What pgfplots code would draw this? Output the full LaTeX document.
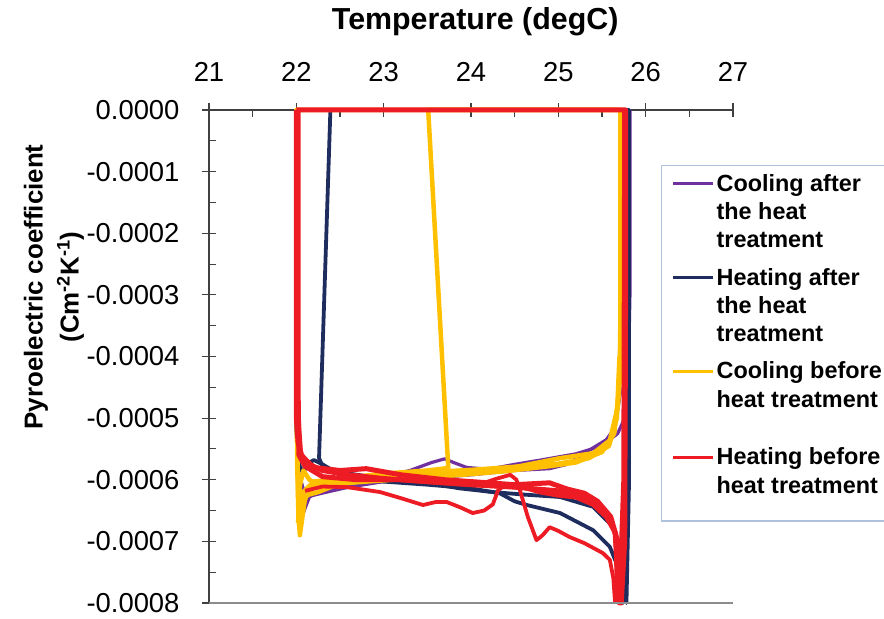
\documentclass[border=0pt]{standalone}
\usepackage{pgfplots}
\pgfplotsset{compat=1.18}
\usepackage{fontspec}
\setmainfont{Liberation Sans}
\definecolor{cpurple}{HTML}{7030A0}
\definecolor{cnavy}{HTML}{1F2D5E}
\definecolor{cyellow}{HTML}{FFC000}
\definecolor{cred}{HTML}{ED1C24}
\definecolor{axgray}{HTML}{404040}
\definecolor{botgray}{HTML}{8C8C8C}
\definecolor{legblue}{HTML}{AFC2DD}
\begin{document}
\begin{tikzpicture}
\begin{axis}[
  name=ax,
  scale only axis, width=524bp, height=493bp,
  xmin=21, xmax=27, ymin=-0.0008, ymax=0,
  axis x line=top, axis y line=left,
  axis line style={-, axgray, line width=1.8bp},
  xtick={21,22,23,24,25,26,27},
  xticklabels={21,22,23,24,25,26,27},
  ytick={-0.0008,-0.0007,-0.0006,-0.0005,-0.0004,-0.0003,-0.0002,-0.0001,0},
  yticklabels={-0.0008,-0.0007,-0.0006,-0.0005,-0.0004,-0.0003,-0.0002,-0.0001,0.0000},
  scaled ticks=false,
  minor x tick num=1, minor y tick num=1,
  tick align=center,
  major tick length=14bp, minor tick length=7bp,
  every tick/.style={axgray, line width=1.1bp},
  minor x tick style={yshift=-3.5bp},
  minor y tick style={xshift=3.5bp},
  ticklabel style={font=\fontsize{27.5}{27.5}\selectfont},
  xticklabel shift=18bp,
  yticklabel shift=19bp,
  xlabel={Temperature (degC)},
  xlabel style={font=\bfseries\fontsize{30.5}{30.5}\selectfont, at={(axis description cs:0.508,1.18)}, anchor=center},
  ylabel={Pyroelectric coefficient\\(Cm\textsuperscript{-2}K\textsuperscript{-1})},
  ylabel style={font=\bfseries\fontsize{26}{36}\selectfont, align=center, at={(axis description cs:-0.296,0.641)}, anchor=center},
  clip=false,
  legend style={at={(axis description cs:0.8626,0.8884)}, anchor=north west, draw=legblue, line width=1.2bp,
    font=\bfseries\fontsize{23.5}{28.5}\selectfont, inner xsep=10bp, inner ysep=6bp,
    nodes={align=left, inner sep=2bp}, row sep=14bp, cells={anchor=north west}},
  legend image code/.code={\draw[#1, line width=3bp] (0bp,-12bp) -- (40bp,-12bp);},
]
% Cooling after the heat treatment (purple)
\addplot[cpurple, line width=3.2bp, line join=round] coordinates {
(25.82,0)(25.82,-0.00030)(25.80,-0.00044)(25.76,-0.00050)(25.68,-0.000525)(25.5,-0.000545)(25.2,-0.000558)(24.8,-0.000568)(24.5,-0.000575)(24.2,-0.000583)(23.95,-0.00058)(23.8,-0.000572)(23.7,-0.000566)(23.55,-0.000572)(23.3,-0.000585)(23.0,-0.000595)(22.6,-0.000608)(22.3,-0.000618)(22.15,-0.000628)(22.09,-0.00065)(22.05,-0.000668)(22.03,-0.00064)(22.01,-0.00055)(22.0,-0.00040)(22.0,0)(25.82,0)};
\addlegendentry{Cooling after\\the heat\\treatment}
\addplot[cpurple, line width=3.2bp, line join=round, forget plot] coordinates {
(25.72,-0.00045)(25.65,-0.000515)(25.55,-0.000535)(25.4,-0.000548)(25.1,-0.000575)(24.9,-0.000582)(24.5,-0.000585)(24.0,-0.000592)(23.5,-0.000598)(23.0,-0.000603)(22.6,-0.000612)(22.35,-0.00062)(22.2,-0.000625)(22.1,-0.000625)(22.06,-0.000605)(22.03,-0.00059)};
% Heating after the heat treatment (navy)
\addplot[cnavy, line width=3.8bp, line join=round] coordinates {
(22.39,0)(22.26,-0.000565)(22.3,-0.000578)(22.5,-0.000588)(23.0,-0.000598)(23.5,-0.000605)(23.87,-0.000614)(24.25,-0.00062)(24.6,-0.000624)(25.02,-0.000628)(25.4,-0.000644)(25.63,-0.000677)(25.72,-0.00072)(25.78,-0.0008)(25.81,-0.0006)(25.81,0)(22.39,0)};
\addlegendentry{Heating after\\the heat\\treatment}
\addplot[cnavy, line width=3.8bp, line join=round, forget plot] coordinates {
(22.0,0)(22.0,-0.00052)(22.03,-0.000575)(22.08,-0.00059)(22.12,-0.000575)(22.2,-0.000568)(22.3,-0.000575)(22.5,-0.000592)(23.0,-0.000603)(23.5,-0.000608)(24.0,-0.000614)(24.33,-0.000622)(24.5,-0.000635)(24.64,-0.000641)(25.02,-0.000654)(25.4,-0.000682)(25.59,-0.000709)(25.71,-0.000751)(25.74,-0.0008)(25.78,-0.0006)(25.80,0)};
% Cooling before heat treatment (yellow)
\addplot[cyellow, line width=4.5bp, line join=round] coordinates {
(25.71,0)(25.71,-0.00035)(25.70,-0.00045)(25.68,-0.000482)(25.59,-0.000536)(25.40,-0.000557)(25.02,-0.000565)(24.45,-0.000581)(23.87,-0.000589)(23.3,-0.000592)(23.0,-0.000595)(22.5,-0.0006)(22.2,-0.00061)(22.1,-0.00063)(22.04,-0.00069)(22.02,-0.00064)(22.0,-0.0004)(22.0,0)(25.71,0)};
\addlegendentry{Cooling before\hspace*{14bp}\\heat treatment\\[-8bp]\mbox{}}
\addplot[cyellow, line width=4.5bp, line join=round, forget plot] coordinates {
(25.70,0)(23.51,0)(23.74,-0.000581)(23.5,-0.000585)(23.0,-0.00059)(22.5,-0.000598)(22.2,-0.000603)(22.08,-0.00062)(22.03,-0.00066)(22.01,-0.00058)(22.0,-0.0004)};
\addplot[cyellow, line width=4.5bp, line join=round, forget plot] coordinates {
(25.70,-0.00040)(25.67,-0.0005)(25.58,-0.000545)(25.35,-0.000565)(25.0,-0.000574)(24.5,-0.000579)(24.0,-0.000584)(23.5,-0.000588)(23.0,-0.000598)(22.6,-0.000605)(22.3,-0.000612)(22.15,-0.0006)(22.08,-0.000585)(22.04,-0.00061)(22.02,-0.00067)};
\addplot[cyellow, line width=4.5bp, line join=round, forget plot] coordinates {
(25.69,-0.00046)(25.64,-0.000525)(25.5,-0.000555)(25.2,-0.000572)(24.9,-0.000578)(24.4,-0.000586)(23.9,-0.000592)(23.4,-0.000597)(22.9,-0.000602)(22.5,-0.000606)(22.25,-0.00062)(22.12,-0.000625)(22.06,-0.000645)(22.03,-0.000675)};
% Heating before heat treatment (red)
\addplot[cred, line width=5bp, line join=round] coordinates {
(22.0,0)(22.0,-0.0005)(22.02,-0.00054)(22.06,-0.00056)(22.15,-0.000575)(22.3,-0.000585)(22.6,-0.000592)(23.0,-0.000598)(23.5,-0.000603)(24.0,-0.000608)(24.5,-0.000612)(25.0,-0.000618)(25.3,-0.000628)(25.5,-0.000645)(25.6,-0.000665)(25.68,-0.0007)(25.72,-0.0008)(25.76,-0.0007)(25.77,-0.0003)(25.77,0)(22.0,0)};
\addlegendentry{Heating before\\heat treatment\\[-10bp]\strut}
\addplot[cred, line width=5bp, line join=round, forget plot] coordinates {
(22.02,0)(22.02,-0.00045)(22.03,-0.00056)(22.1,-0.000578)(22.3,-0.000595)(22.7,-0.0006)(23.2,-0.0006)(23.8,-0.000606)(24.3,-0.00061)(24.6,-0.000612)(24.8,-0.00062)(25.0,-0.000625)(25.2,-0.000628)(25.4,-0.00064)(25.55,-0.00066)(25.65,-0.000685)(25.7,-0.0008)(25.75,-0.0006)(25.76,0)};
\addplot[cred, line width=5bp, line join=round, forget plot] coordinates {
(22.02,-0.0005)(22.05,-0.00056)(22.2,-0.00058)(22.5,-0.000585)(22.8,-0.000582)(23.2,-0.000592)(23.7,-0.0006)(24.2,-0.000605)(24.5,-0.000608)(24.9,-0.000605)(25.1,-0.000615)(25.3,-0.000622)(25.45,-0.000635)(25.6,-0.00066)(25.66,-0.00069)(25.68,-0.0008)};
\addplot[cred, line width=3.8bp, line join=round, forget plot] coordinates {
(22.1,-0.000618)(22.3,-0.000611)(22.58,-0.000612)(22.96,-0.00062)(23.2,-0.00063)(23.45,-0.000641)(23.6,-0.000636)(23.72,-0.000636)(23.88,-0.000645)(24.02,-0.000654)(24.15,-0.00065)(24.25,-0.00064)(24.31,-0.000617)(24.4,-0.000608)(24.7,-0.000612)};
\addplot[cred, line width=3.8bp, line join=round, forget plot] coordinates {
(24.15,-0.000605)(24.3,-0.000598)(24.45,-0.000592)(24.52,-0.0006)(24.56,-0.000617)(24.65,-0.00066)(24.75,-0.000698)(24.82,-0.00069)(24.9,-0.000677)(25.0,-0.000683)(25.13,-0.000693)(25.3,-0.000703)(25.51,-0.000719)(25.59,-0.00073)(25.63,-0.00076)(25.65,-0.0008)};
\draw[botgray, line width=1.8bp] (rel axis cs:0,0) -- (rel axis cs:1,0);
\end{axis}
\pgfresetboundingbox
\path[use as bounding box] ([xshift=-209bp,yshift=-16bp]ax.south west) rectangle ([xshift=151bp,yshift=110bp]ax.north east);
\end{tikzpicture}
\end{document}
